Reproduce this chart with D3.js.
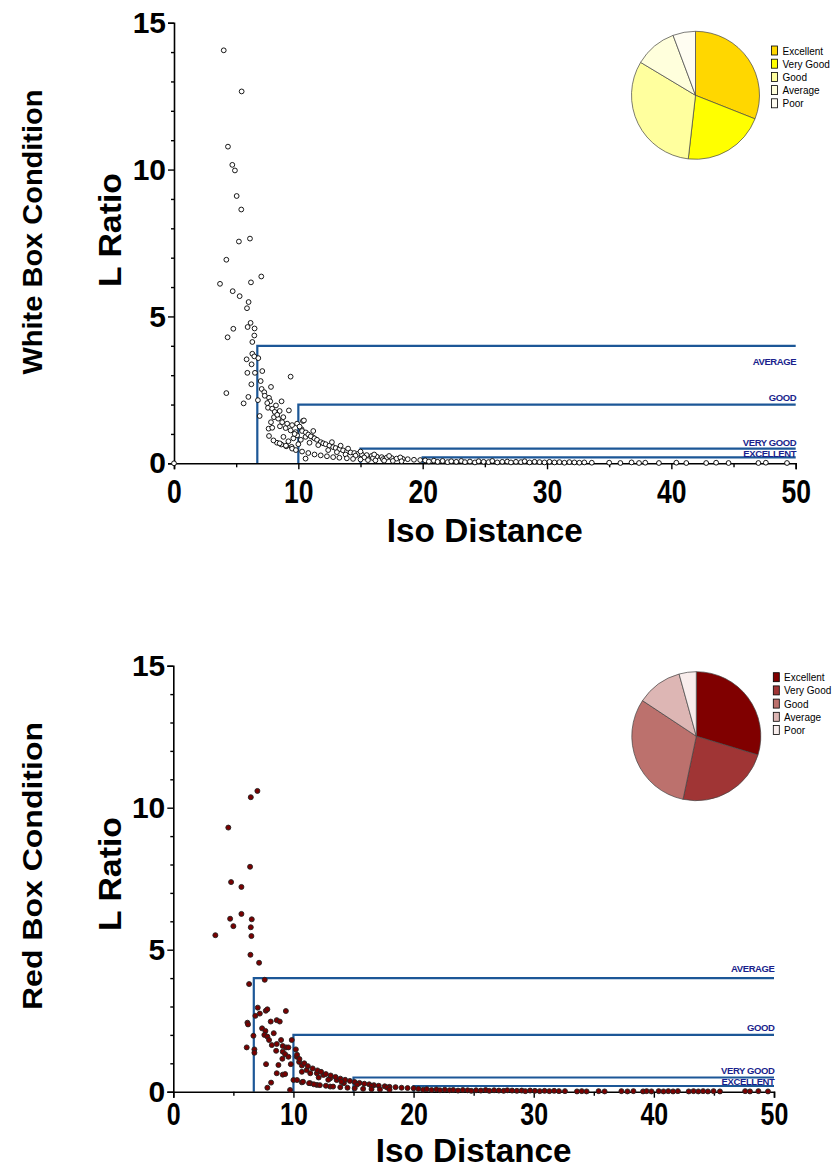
<!DOCTYPE html>
<html>
<head>
<meta charset="utf-8">
<script src="https://cdn.jsdelivr.net/npm/d3@7/dist/d3.min.js"></script>
<style>
  html, body { margin: 0; padding: 0; background: #fff; }
  svg { display: block; }
  text { font-family: "Liberation Sans", Arial, sans-serif; }
</style>
</head>
<body>
<svg id="chart" width="835" height="1169"></svg>
<script>
// ---------------- DATA ----------------
const xTicks = [0, 10, 20, 30, 40, 50];
const xMinorTicks = [5, 15, 25, 35, 45];
const yTicks = [0, 5, 10, 15];
const yMinorTicks = [1, 2, 3, 4, 6, 7, 8, 9, 11, 12, 13, 14];

const thresholdNames = ["EXCELLENT", "VERY GOOD", "GOOD", "AVERAGE"];
const thresholdIso = [20, 15, 10, 6.7];
const thresholdLRatio = [0.2, 0.5, 2, 4];

const qualityCategories = ["Excellent", "Very Good", "Good", "Average", "Poor"];
const whitePieValues = [31.0, 20.8, 31.8, 10.7, 5.7];
const redPieValues = [29.7, 23.6, 31.0, 11.4, 4.3];

// White box condition: [Iso Distance, L Ratio]
const whitePoints = [
  [0,0],
  [4.0,14.06],[5.44,12.66],[4.34,10.78],[4.69,10.16],[4.9,9.97],[5.04,9.1],[5.41,8.64],[5.22,7.55],[6.11,7.65],
  [4.21,6.93],[7.02,6.36],[3.7,6.11],[6.19,6.16],[4.72,5.86],[5.28,5.69],[6.0,5.49],[5.87,5.28],[6.16,4.78],
  [5.92,4.64],[6.48,4.59],[4.77,4.58],[6.46,4.35],[4.31,4.29],[6.3,4.13],[6.3,3.73],[6.46,3.64],[6.78,3.58],
  [5.84,3.54],[6.24,3.37],[7.1,3.14],[5.9,3.08],[6.51,3.08],[9.38,2.95],[6.97,2.8],[6.22,2.69],[7.05,2.53],
  [7.8,2.6],[7.26,2.42],[4.21,2.39],[5.98,2.26],[6.75,2.15],[7.64,2.23],[5.6,2.04],[7.74,2.11],[8.65,2.11],
  [7.56,1.89],[7.9,1.86],[8.2,1.97],[8.5,1.78],[9.24,1.8],[6.89,1.61],[8.04,1.57],[8.79,1.57],[8.38,1.52],
  [7.61,1.18],[7.9,1.21],[7.64,0.93],[8.52,1.26],[8.98,1.2],[9.38,1.12],[9.78,1.06],[10.37,1.44],[10.26,1.16],
  [8.28,0.7],[8.63,0.64],[9.03,0.58],[9.46,0.56],[10.58,0.9],[11.12,0.9],[10.58,0.16],[10.45,1.46],
  [7.3,2.3],[7.5,2.05],[8.1,1.75],[8.3,1.65],[8.7,1.4],[9.1,1.35],[9.5,1.3],[7.8,1.4],[9.6,0.85],[9.9,0.95],
  [8.8,0.9],[9.2,0.75],[10.0,0.65],[9.7,1.0],
  [9.9,1.35],[10.1,1.25],[10.3,1.1],[10.6,1.05],[10.8,0.98],[11.0,0.92],[11.3,0.85],[11.5,0.8],[11.8,0.72],
  [12.0,0.68],[12.2,0.65],[12.5,0.6],[12.8,0.55],[13.0,0.52],[13.3,0.48],[13.6,0.44],[13.9,0.4],[14.2,0.37],
  [14.5,0.35],[14.8,0.32],[15.1,0.3],[15.5,0.28],[15.9,0.25],[16.3,0.23],[16.7,0.21],[17.1,0.19],[17.5,0.18],
  [17.9,0.16],[18.4,0.15],[18.8,0.14],[19.3,0.12],[19.8,0.11],
  [10.2,0.8],[10.9,0.7],[11.6,0.62],[12.4,0.45],[13.1,0.38],[13.8,0.3],[14.6,0.26],[15.3,0.2],[16.0,0.18],
  [16.8,0.14],[11.2,1.1],[12.7,0.72],[13.4,0.6],[14.0,0.5],[15.0,0.4],[16.1,0.3],[17.3,0.25],[18.2,0.2],
  [8.0,0.78],[8.5,0.68],[9.0,0.6],[9.5,0.5],[9.8,0.45],[10.3,0.4],[10.8,0.35],[11.3,0.3],[11.8,0.27],
  [12.3,0.24],[12.8,0.21],[13.3,0.19],[13.9,0.17],[14.4,0.15],[15.0,0.13],[15.6,0.11],[16.2,0.1],[16.9,0.09],
  [17.6,0.08],[18.3,0.07],
  [20.2,0.1],[20.5,0.06],[20.9,0.09],[21.2,0.05],[21.6,0.08],[22.0,0.04],[22.3,0.07],[22.7,0.05],[23.1,0.08],
  [23.4,0.04],[23.8,0.06],[24.2,0.03],[24.5,0.07],[24.9,0.05],[25.3,0.04],[25.6,0.08],[26.0,0.03],[26.4,0.05],
  [26.8,0.06],[27.1,0.03],[27.5,0.05],[27.9,0.04],[28.2,0.07],[28.6,0.03],[29.0,0.05],[29.4,0.04],[29.8,0.03],
  [30.2,0.05],[30.6,0.03],[31.0,0.04],[31.4,0.02],[31.8,0.04],[32.2,0.03],[32.6,0.02],[33.0,0.03],[33.6,0.02],
  [35.0,0.02],[35.9,0.01],[36.8,0.03],[37.4,0.01],[37.9,0.02],[39.0,0.01],[40.4,0.02],[41.2,0.01],[42.8,0.01],
  [43.6,0.02],[44.6,0.01],[47.0,0.01],[47.6,0.02],[49.3,0.01]
];

// Red box condition: [Iso Distance, L Ratio]
const redPoints = [
  [7.0,10.59],[6.45,10.37],[4.58,9.3],[6.39,7.92],[4.81,7.38],[5.67,7.21],[5.67,6.26],[6.53,6.07],[4.73,6.09],
  [5.0,5.83],[6.45,5.79],[6.5,5.48],[3.5,5.51],[6.42,4.82],[7.14,4.54],[6.31,3.79],[7.61,3.94],[7.03,2.96],
  [7.2,2.75],[7.7,2.85],[7.83,2.9],[9.37,2.84],[6.83,2.67],[6.17,2.43],[6.22,2.37],[8.11,2.47],[8.61,2.52],
  [8.86,2.47],[7.39,2.23],[7.67,2.14],[6.67,1.97],[7.58,2.0],[7.83,1.94],[8.36,2.06],[7.97,1.82],[8.97,1.82],
  [9.86,1.82],[8.61,1.68],[8.2,1.64],[9.11,1.61],[9.39,1.56],[9.58,1.56],[8.56,1.44],[6.11,1.56],[6.75,1.49],
  [6.75,1.37],[9.11,1.41],[9.31,1.32],[9.08,1.16],[9.58,1.23],[10.2,1.49],[10.28,1.23],[8.75,0.94],[7.72,0.97],
  [9.78,0.97],[8.61,0.65],[9.11,0.6],[9.31,0.62],[7.83,0.14],[8.14,0.32],[9.72,0.06],[10.0,0.41],[10.47,1.05],
  [10.7,0.92],[10.7,0.7],[11.1,0.76],[11.4,0.65],[10.7,0.33],[11.4,0.3],[11.95,0.65],[12.5,0.59],[11.95,0.24],
  [13.06,0.47],[13.6,0.41],[13.06,0.18],[14.2,0.3],
  [10.3,1.3],[10.5,1.15],[10.9,1.0],[11.2,0.9],[11.6,0.82],[12.0,0.75],[12.3,0.7],[12.7,0.62],[13.1,0.57],
  [13.5,0.52],[13.9,0.46],[14.3,0.42],[14.7,0.38],[15.1,0.34],[15.5,0.31],[15.9,0.28],[16.3,0.26],[16.7,0.23],
  [17.1,0.21],[17.6,0.19],[18.0,0.17],[18.5,0.16],[19.0,0.14],[19.5,0.13],[20.0,0.12],[12.1,0.5],[12.9,0.42],
  [14.0,0.35],[15.3,0.25],[16.5,0.2],[17.8,0.15],
  [10.3,0.41],[10.8,0.35],[11.3,0.3],[11.7,0.26],[12.2,0.23],[12.7,0.21],[13.3,0.18],[13.9,0.16],[14.5,0.14],
  [15.1,0.12],[15.8,0.1],[16.5,0.09],[17.2,0.08],[18.0,0.07],
  [20.4,0.1],[20.8,0.07],[21.1,0.09],[21.5,0.06],[21.9,0.08],[22.2,0.05],[22.6,0.07],[23.0,0.05],[23.3,0.06],
  [23.7,0.04],[24.1,0.06],[24.5,0.05],[24.8,0.03],[25.2,0.05],[25.6,0.04],[26.0,0.06],[26.3,0.03],[26.7,0.05],
  [27.1,0.04],[27.5,0.03],[27.8,0.05],[28.2,0.04],[28.6,0.03],[29.0,0.04],[29.3,0.02],[29.7,0.04],[30.1,0.03],
  [30.5,0.02],[30.9,0.03],[31.3,0.02],[31.7,0.03],[32.1,0.02],[32.6,0.02],[33.6,0.01],[34.0,0.02],[34.4,0.01],
  [35.4,0.02],[35.9,0.01],[37.3,0.02],[37.8,0.01],[38.3,0.02],[39.1,0.01],[39.4,0.02],[39.8,0.01],[40.4,0.02],
  [40.8,0.01],[41.2,0.02],[41.6,0.01],[42.0,0.02],[42.9,0.01],[43.3,0.02],[43.7,0.01],[44.1,0.02],[44.5,0.01],
  [44.97,0.02],[45.5,0.01],[47.6,0.02],[48.0,0.01],[48.7,0.02],[49.5,0.01]
];

// ---------------- STYLE / LAYOUT ----------------
const charts = [
  {
    points: whitePoints, pie: whitePieValues,
    title: "White Box Condition", titleLen: 285,
    pieColors: ["#FFD700", "#FFFF00", "#FFFF9E", "#FFFFDC", "#FFFDF2"],
    pointFill: "#ffffff", pointStroke: "#000", pointR: 2.4,
    xRange: [174, 795.7], yRange: [463.3, 22.7],
    pieCenter: [695.5, 95.3], pieR: 64,
    legend: { x: 771.5, y: 46, textX: 782.5 },
    labelOffsets: { "AVERAGE": 19, "GOOD": -4, "VERY GOOD": -3, "EXCELLENT": 0 },
    xFont: 34, xLabelPad: 10, isoY: 542, isoFont: 34, isoLen: 196,
    titleY: 232, lratioY: 230
  },
  {
    points: redPoints, pie: redPieValues,
    title: "Red Box Condition", titleLen: 288,
    pieColors: ["#800000", "#A03535", "#BC716D", "#DDB6B4", "#F8EDEC"],
    pointFill: "#7A0000", pointStroke: "#222", pointR: 2.5,
    xRange: [173.3, 774], yRange: [1091.7, 665.7],
    pieCenter: [696.3, 736.2], pieR: 64.5,
    legend: { x: 773.3, y: 672.7, textX: 784 },
    labelOffsets: { "AVERAGE": -6, "GOOD": -4, "VERY GOOD": -4, "EXCELLENT": -1 },
    xFont: 32, xLabelPad: 5, isoY: 1162, isoFont: 33, isoLen: 196,
    titleY: 866, lratioY: 874
  }
];

const svg = d3.select("#chart");
const lineBlue = "#1C5797";
const labelBlue = "#1A1F8C";

charts.forEach(cfg => {
  const x = d3.scaleLinear().domain([0, 50]).range(cfg.xRange);
  const y = d3.scaleLinear().domain([0, 15]).range(cfg.yRange);
  const g = svg.append("g");

  // Threshold boxes
  thresholdNames.forEach((name, i) => {
    const xi = thresholdIso[i], yi = thresholdLRatio[i];
    g.append("path")
      .attr("d", d3.line()([[x(xi), y(0)], [x(xi), y(yi)], [x(50), y(yi)]]))
      .attr("fill", "none").attr("stroke", lineBlue).attr("stroke-width", 2.2);
    g.append("text")
      .attr("x", x(50) + 0.5)
      .attr("y", y(yi) + cfg.labelOffsets[name])
      .attr("text-anchor", "end")
      .attr("font-size", 9.5).attr("font-weight", "bold")
      .attr("letter-spacing", -0.4)
      .attr("fill", labelBlue)
      .text(name);
  });

  // Axes
  const xAxis = g.append("g").attr("transform", `translate(0,${y(0)})`)
    .call(d3.axisBottom(x).tickValues(xTicks).tickSize(6).tickPadding(cfg.xLabelPad).tickFormat(d3.format("d")));
  xAxis.selectAll("text").attr("font-size", cfg.xFont).attr("font-weight", "bold")
    .attr("fill", "#000").attr("font-family", "Liberation Sans, Arial, sans-serif")
    .attr("transform", "scale(0.78,1)");
  g.append("g").attr("transform", `translate(0,${y(0)})`)
    .call(d3.axisBottom(x).tickValues(xMinorTicks).tickSize(4).tickFormat(""))
    .select(".domain").remove();

  const yAxis = g.append("g").attr("transform", `translate(${x(0)},0)`)
    .call(d3.axisLeft(y).tickValues(yTicks).tickSize(6).tickPadding(2).tickFormat(d3.format("d")));
  yAxis.selectAll("text").attr("font-size", 30).attr("font-weight", "bold")
    .attr("fill", "#000").attr("font-family", "Liberation Sans, Arial, sans-serif");
  g.append("g").attr("transform", `translate(${x(0)},0)`)
    .call(d3.axisLeft(y).tickValues(yMinorTicks).tickSize(3).tickFormat(""))
    .select(".domain").remove();

  g.selectAll(".domain").attr("stroke", "#000").attr("stroke-width", 1.6);
  g.selectAll(".tick line").attr("stroke", "#000").attr("stroke-width", 1.4);

  // Points
  g.append("g").selectAll("circle").data(cfg.points).join("circle")
    .attr("cx", d => x(d[0])).attr("cy", d => y(d[1]))
    .attr("r", cfg.pointR)
    .attr("fill", cfg.pointFill).attr("stroke", cfg.pointStroke).attr("stroke-width", 0.9);

  // Axis titles
  g.append("text")
    .attr("x", (cfg.xRange[0] + cfg.xRange[1]) / 2).attr("y", cfg.isoY)
    .attr("text-anchor", "middle").attr("font-size", cfg.isoFont).attr("font-weight", "bold")
    .attr("textLength", cfg.isoLen).attr("lengthAdjust", "spacingAndGlyphs")
    .text("Iso Distance");
  g.append("text")
    .attr("transform", `translate(121,${cfg.lratioY}) rotate(-90)`)
    .attr("text-anchor", "middle").attr("font-size", 31).attr("font-weight", "bold")
    .attr("textLength", 114).attr("lengthAdjust", "spacingAndGlyphs")
    .text("L Ratio");
  g.append("text")
    .attr("transform", `translate(42,${cfg.titleY}) rotate(-90)`)
    .attr("text-anchor", "middle").attr("font-size", 27.5).attr("font-weight", "bold")
    .attr("textLength", cfg.titleLen).attr("lengthAdjust", "spacingAndGlyphs")
    .text(cfg.title);

  // Pie
  const pie = d3.pie().sort(null).value(d => d);
  const arc = d3.arc().innerRadius(0).outerRadius(cfg.pieR);
  const pg = g.append("g").attr("transform", `translate(${cfg.pieCenter[0]},${cfg.pieCenter[1]})`);
  pg.selectAll("path").data(pie(cfg.pie)).join("path")
    .attr("d", arc)
    .attr("fill", (d, i) => cfg.pieColors[i])
    .attr("stroke", "#444").attr("stroke-width", 0.7);

  // Legend
  const lg = g.append("g");
  qualityCategories.forEach((c, i) => {
    lg.append("rect")
      .attr("x", cfg.legend.x).attr("y", cfg.legend.y + i * 13.2)
      .attr("width", 6).attr("height", 9)
      .attr("fill", cfg.pieColors[i]).attr("stroke", "#000").attr("stroke-width", 0.8);
    lg.append("text")
      .attr("x", cfg.legend.textX).attr("y", cfg.legend.y + i * 13.2 + 8.5)
      .attr("font-size", 10).attr("fill", "#000")
      .text(c);
  });
});
</script>
</body>
</html>
